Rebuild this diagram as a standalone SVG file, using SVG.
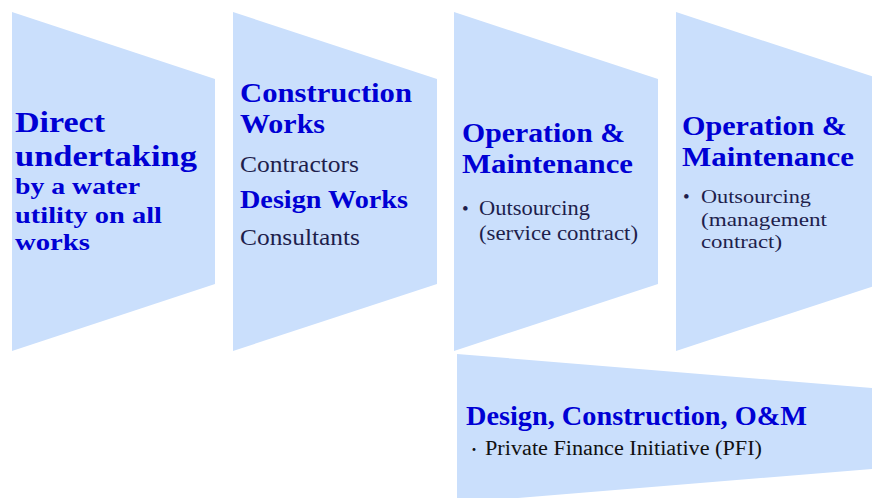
<svg xmlns="http://www.w3.org/2000/svg" width="872" height="498" viewBox="0 0 872 498">
<style>
.shape{fill:#CADFFC;stroke:none}
.h{font-family:"Liberation Serif","DejaVu Serif",serif;font-weight:bold;fill:#0000D4}
.b{font-family:"Liberation Serif","DejaVu Serif",serif;fill:#1E1E4C}
.k{font-family:"Liberation Serif","Noto Sans CJK JP",serif;fill:#111111}
</style>
<rect width="872" height="498" fill="#FFFFFF"/>
<g id="node-direct">
<polygon class="shape" points="12,12 215,79 215,284 12,351"/>
<text class="h" font-size="29" x="15" y="132" textLength="90" lengthAdjust="spacingAndGlyphs">Direct</text>
<text class="h" font-size="29" x="15" y="166" textLength="182" lengthAdjust="spacingAndGlyphs">undertaking</text>
<text class="h" font-size="23" x="15" y="194" textLength="125" lengthAdjust="spacingAndGlyphs">by a water</text>
<text class="h" font-size="23" x="15" y="223" textLength="147" lengthAdjust="spacingAndGlyphs">utility on all</text>
<text class="h" font-size="23" x="15" y="250" textLength="75" lengthAdjust="spacingAndGlyphs">works</text>
</g>
<g id="node-construction">
<polygon class="shape" points="233,12 437,79 437,284 233,351"/>
<text class="h" font-size="28" x="240" y="102" textLength="172" lengthAdjust="spacingAndGlyphs">Construction</text>
<text class="h" font-size="28" x="240" y="133" textLength="85" lengthAdjust="spacingAndGlyphs">Works</text>
<text class="b" font-size="23" x="240" y="172" textLength="119" lengthAdjust="spacingAndGlyphs">Contractors</text>
<text class="h" font-size="26" x="240" y="208" textLength="168" lengthAdjust="spacingAndGlyphs">Design Works</text>
<text class="b" font-size="23" x="240" y="245" textLength="120" lengthAdjust="spacingAndGlyphs">Consultants</text>
</g>
<g id="node-om-service">
<polygon class="shape" points="454,12 658,79 658,284 454,351"/>
<text class="h" font-size="28" x="462" y="142" textLength="163" lengthAdjust="spacingAndGlyphs">Operation &amp;</text>
<text class="h" font-size="28" x="462" y="173" textLength="171" lengthAdjust="spacingAndGlyphs">Maintenance</text>
<text class="b" font-size="19" x="462" y="215">•</text>
<text class="b" font-size="20" x="479" y="215" textLength="111" lengthAdjust="spacingAndGlyphs">Outsourcing</text>
<text class="b" font-size="20" x="479" y="240" textLength="159" lengthAdjust="spacingAndGlyphs">(service contract)</text>
</g>
<g id="node-om-management">
<polygon class="shape" points="676,12 880,79 880,284 676,351"/>
<text class="h" font-size="28" x="682" y="135" textLength="165" lengthAdjust="spacingAndGlyphs">Operation &amp;</text>
<text class="h" font-size="28" x="682" y="166" textLength="172" lengthAdjust="spacingAndGlyphs">Maintenance</text>
<text class="b" font-size="19" x="683" y="203">•</text>
<text class="b" font-size="19" x="701" y="203" textLength="110" lengthAdjust="spacingAndGlyphs">Outsourcing</text>
<text class="b" font-size="19" x="701" y="226" textLength="126" lengthAdjust="spacingAndGlyphs">(management</text>
<text class="b" font-size="19" x="701" y="248" textLength="81" lengthAdjust="spacingAndGlyphs">contract)</text>
</g>
<g id="node-pfi">
<polygon class="shape" points="457,354 872,388 872,469 457,503"/>
<text class="h" font-size="28" x="466" y="425" textLength="341" lengthAdjust="spacingAndGlyphs">Design, Construction, O&amp;M</text>
<text class="k" font-size="14" x="467" y="454">・</text>
<text class="k" font-size="20" x="485" y="455" textLength="277" lengthAdjust="spacingAndGlyphs">Private Finance Initiative (PFI)</text>
</g>
<g id="connectors"></g>
</svg>
